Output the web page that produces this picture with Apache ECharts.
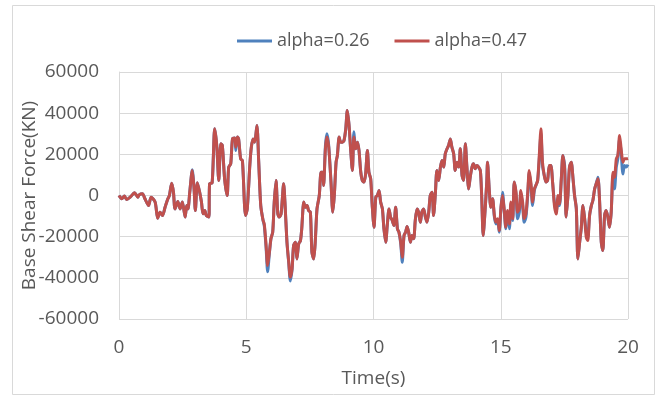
<!DOCTYPE html>
<html>
<head>
<meta charset="utf-8">
<script src="https://cdn.jsdelivr.net/npm/echarts@6/dist/echarts.min.js"></script>
<style>
  html, body { margin: 0; padding: 0; background: #fff; }
  #chart { width: 661px; height: 397px; }
</style>
</head>
<body>
<div id="chart"></div>
<script>
// Time stamps (s)
const time = [
  0.00, 0.11, 0.21, 0.30, 0.44, 0.61, 0.74, 0.79, 0.92, 1.02,
  1.16, 1.26, 1.42, 1.52, 1.61, 1.71, 1.81, 1.92, 1.98, 2.07,
  2.14, 2.20, 2.31, 2.40, 2.49, 2.60, 2.66, 2.71, 2.78, 2.88,
  2.95, 3.00, 3.08, 3.17, 3.24, 3.30, 3.37, 3.43, 3.53, 3.56,
  3.66, 3.76, 3.84, 3.92, 4.00, 4.06, 4.15, 4.25, 4.31, 4.39,
  4.46, 4.55, 4.59, 4.65, 4.70, 4.78, 4.85, 4.97, 5.04, 5.14,
  5.20, 5.27, 5.33, 5.42, 5.49, 5.57, 5.66, 5.71, 5.78, 5.84,
  5.91, 5.97, 6.04, 6.10, 6.17, 6.24, 6.30, 6.37, 6.47, 6.52,
  6.60, 6.67, 6.73, 6.80, 6.86, 6.93, 6.99, 7.06, 7.13, 7.18,
  7.26, 7.32, 7.39, 7.45, 7.52, 7.58, 7.65, 7.71, 7.78, 7.87,
  7.94, 8.00, 8.04, 8.11, 8.17, 8.24, 8.33, 8.40, 8.46, 8.53,
  8.58, 8.65, 8.71, 8.78, 8.84, 8.91, 8.97, 9.04, 9.10, 9.17,
  9.23, 9.30, 9.37, 9.43, 9.50, 9.56, 9.63, 9.69, 9.76, 9.82,
  9.89, 9.95, 10.02, 10.09, 10.15, 10.22, 10.28, 10.35, 10.41, 10.48,
  10.54, 10.61, 10.67, 10.74, 10.80, 10.87, 10.94, 11.00, 11.07, 11.13,
  11.20, 11.26, 11.32, 11.38, 11.45, 11.51, 11.58, 11.64, 11.71, 11.77,
  11.84, 11.90, 11.97, 12.04, 12.10, 12.17, 12.23, 12.30, 12.36, 12.43,
  12.49, 12.56, 12.63, 12.69, 12.76, 12.82, 12.89, 12.95, 13.02, 13.08,
  13.15, 13.21, 13.28, 13.35, 13.41, 13.48, 13.54, 13.61, 13.67, 13.74,
  13.80, 13.87, 13.93, 14.00, 14.06, 14.13, 14.20, 14.25, 14.31, 14.38,
  14.45, 14.48, 14.55, 14.61, 14.68, 14.75, 14.81, 14.88, 14.94, 15.01,
  15.07, 15.14, 15.20, 15.27, 15.34, 15.40, 15.47, 15.53, 15.60, 15.66,
  15.73, 15.79, 15.86, 15.92, 15.99, 16.06, 16.12, 16.19, 16.25, 16.32,
  16.38, 16.45, 16.51, 16.58, 16.64, 16.71, 16.78, 16.84, 16.91, 16.97,
  17.04, 17.11, 17.18, 17.25, 17.31, 17.38, 17.44, 17.51, 17.57, 17.64,
  17.70, 17.77, 17.84, 17.90, 17.97, 18.03, 18.10, 18.16, 18.23, 18.29,
  18.36, 18.42, 18.49, 18.56, 18.62, 18.69, 18.75, 18.82, 18.88, 18.95,
  19.01, 19.08, 19.14, 19.21, 19.27, 19.34, 19.41, 19.47, 19.54, 19.60,
  19.67, 19.73, 19.80, 19.86, 19.93, 20.00
]

// Base shear (kN), alpha = 0.47 (red)
const alpha047 = [
  0, -1600, -300, -1900, -800, 1300, -800, 300, 800, -1600,
  -4900, -800, -3200, -11000, -8100, -9700, -5700, -1600, 0, 6000,
  1600, -6500, -2900, -6500, -3200, -10500, -4900, -6500, 1600, 12200,
  3200, -7300, 6200, 1600, -3200, -8900, -7300, -9700, -10500, 5700,
  6200, 32400, 24300, 7300, 25100, 24300, 8100, 0, 13800, 15400,
  27500, 27900, 23500, 28400, 27500, 17800, 17000, -9700, -6500, 14600,
  23500, 27500, 25900, 34000, 16200, -4900, -12000, -14000, -24300, -34000,
  -27500, -21000, -17800, -3200, 7300, -8900, -10500, -8900, 5700, -3200,
  -22700, -32400, -39700, -35600, -24300, -22700, -30800, -23500, -21900, -16200,
  -3200, -5700, -4900, -7300, -8100, -27500, -30800, -22700, -6500, 0,
  11300, 11300, 4900, 22700, 28400, 23500, 6500, -8100, 0, 16200,
  19400, 28400, 25900, 25900, 26700, 32400, 41300, 34000, 22700, 12200,
  28400, 22700, 25900, 21900, 11300, 7300, 6500, 10500, 21900, 11300,
  8100, -4900, -15400, -800, 0, 2400, -3200, -6500, -16200, -22700,
  -14600, -6500, -10500, -12200, -14600, -5700, -16200, -17800, -22700, -30000,
  -19400, -17800, -15000, -17800, -22700, -19400, -21000, -12200, -6500, -8100,
  -13000, -8100, -6500, -10500, -13000, -8100, 0, 1600, -9700, 800,
  12200, 7300, 13800, 17000, 13800, 20300, 22700, 24300, 27500, 23500,
  20300, 12200, 16200, 13800, 22700, 9700, 7300, 25100, 13800, 3200,
  8900, 13800, 15400, 13000, 14600, 13800, 12000, 0, -19400, -8100,
  6500, 16200, 2400, -5700, -1600, -9700, -13000, -11300, -17000, -5700,
  0, -7300, -15400, -7300, -13800, -3200, -11300, 6500, 1600, -8100,
  -6500, 2400, -3200, -11300, -8900, 1600, 12200, 5700, -3200, 3200,
  4900, 7300, 18600, 32400, 16200, 9700, 6500, 7300, 14600, 14600,
  6000, -5000, -9000, 0, -4100, 8100, 19400, 13000, -10500, 0,
  13800, 16200, 8100, 0, -6500, -30800, -22700, -16200, -4900, -10500,
  -20300, -21900, -9700, -4900, -2400, 3200, 5700, 8100, -1600, -22700,
  -26700, -9700, -7300, -10500, -15400, -8100, 11300, 8900, 17800, 19400,
  29100, 22700, 16200, 17800, 17800, 18000
]

// Base shear (kN), alpha = 0.26 (blue)
const alpha026 = [
  0, -1600, -300, -1900, -800, 1300, -800, 300, 800, -1600,
  -4900, -800, -3200, -11000, -8100, -9700, -5700, -1600, 0, 6000,
  1600, -6500, -2900, -6500, -3200, -10500, -4900, -6500, 1600, 12500,
  3200, -7300, 6200, 1600, -3200, -8900, -7300, -9700, -10500, 5700,
  6200, 32400, 24300, 7300, 25100, 24300, 8100, 0, 13800, 15400,
  27500, 27900, 21900, 28400, 27500, 17800, 17000, -9700, -6500, 14600,
  23500, 27500, 25900, 34000, 16200, -4900, -12000, -14800, -25500, -37000,
  -28000, -21000, -17800, -3200, 7300, -8900, -10500, -8900, 5700, -3200,
  -22700, -33000, -41500, -36000, -24300, -22700, -30800, -23500, -21900, -16200,
  -3200, -5700, -4900, -7300, -8100, -27500, -30800, -22700, -6500, 0,
  11300, 11300, 4900, 24000, 30000, 24300, 6500, -8100, 0, 16200,
  19400, 28400, 25900, 25900, 26700, 32400, 41300, 34000, 22700, 12200,
  31000, 22700, 25900, 21900, 11300, 7300, 6500, 10500, 21900, 11300,
  8100, -4900, -15400, -800, 0, 2400, -3200, -6500, -16200, -22700,
  -14600, -6500, -10500, -12200, -14600, -5700, -16200, -17800, -23500, -32400,
  -19400, -17800, -15000, -17800, -22700, -19400, -21000, -12200, -6500, -8100,
  -13000, -8100, -6500, -10500, -13000, -8100, 0, 1600, -9700, 800,
  12200, 7300, 13800, 17000, 13800, 20300, 22700, 24300, 27500, 23500,
  20300, 12200, 16200, 13800, 22700, 9700, 7300, 25100, 13800, 3200,
  8900, 13800, 15400, 13000, 14600, 13800, 12000, 0, -19400, -8100,
  6500, 16200, 2400, -5700, -1600, -10500, -13800, -12200, -17800, -5700,
  1600, -8100, -16200, -8100, -16200, -4100, -12200, 6500, 800, -11300,
  -8100, 1600, -4900, -13000, -10500, 0, 11300, 4100, -4900, 2400,
  4900, 7300, 17000, 30000, 14600, 9700, 6500, 7300, 14600, 14600,
  6000, -3500, -8000, -3200, -4900, 8100, 19400, 14600, -10500, 0,
  13800, 16200, 8100, 0, -6500, -30800, -22700, -16200, -4900, -10500,
  -17800, -20300, -9700, -4900, -2400, 3200, 5700, 8900, -1600, -22700,
  -26700, -9700, -7300, -10500, -15400, -8100, 9700, 3200, 13800, 17800,
  27500, 21100, 10500, 14600, 13800, 15000
]

const xTicks = { min: 0, max: 20, interval: 5 }
const yTicks = { min: -60000, max: 60000, interval: 20000 }

const chart = echarts.init(document.getElementById('chart'), null, { renderer: 'canvas' })

const textColor = '#595959'
const gridColor = '#d9d9d9'
const font = "'Open Sans', sans-serif"

const option = {
  backgroundColor: '#fff',
  animation: false,
  textStyle: { fontFamily: font },
  graphic: [
    {
      type: 'rect',
      shape: { x: 12.5, y: 5.5, width: 642, height: 389 },
      style: { fill: 'none', stroke: gridColor, lineWidth: 1 },
      silent: true
    }
  ],
  legend: {
    data: ['alpha=0.26', 'alpha=0.47'],
    left: 232,
    top: 25,
    icon: 'rect',
    itemWidth: 35,
    itemHeight: 3,
    itemGap: 25,
    textStyle: { color: textColor, fontSize: 18, fontFamily: font, lineHeight: 22 }
  },
  grid: {
    left: 119,
    right: 33,
    top: 72,
    bottom: 78
  },
  xAxis: {
    type: 'value',
    min: xTicks.min,
    max: xTicks.max,
    interval: xTicks.interval,
    name: 'Time(s)',
    nameLocation: 'middle',
    nameGap: 50,
    nameTextStyle: { color: textColor, fontSize: 19, fontFamily: font },
    axisLine: { show: true, lineStyle: { color: gridColor } },
    axisTick: { show: false },
    axisLabel: { color: textColor, fontSize: 19, margin: 19, fontFamily: font },
    splitLine: { show: true, lineStyle: { color: gridColor } }
  },
  yAxis: {
    type: 'value',
    min: yTicks.min,
    max: yTicks.max,
    interval: yTicks.interval,
    name: 'Base Shear Force(KN)',
    nameLocation: 'middle',
    nameGap: 80,
    nameMoveOverlap: false,
    nameTextStyle: { color: textColor, fontSize: 19, fontFamily: font },
    axisLine: { show: true, lineStyle: { color: gridColor } },
    axisTick: { show: false },
    axisLabel: {
      color: textColor,
      fontSize: 19,
      margin: 20,
      fontFamily: font,
      formatter: (v) => String(v)
    },
    splitLine: { show: true, lineStyle: { color: gridColor } }
  },
  series: [
    {
      name: 'alpha=0.26',
      type: 'line',
      data: time.map((t, i) => [t, alpha026[i]]),
      showSymbol: false,
      smooth: 0.25,
      itemStyle: { color: '#4F81BD' },
      lineStyle: { color: '#4F81BD', width: 3 },
      z: 2
    },
    {
      name: 'alpha=0.47',
      type: 'line',
      data: time.map((t, i) => [t, alpha047[i]]),
      showSymbol: false,
      smooth: 0.25,
      itemStyle: { color: '#C0504D' },
      lineStyle: { color: '#C0504D', width: 3 },
      z: 3
    }
  ]
}

chart.setOption(option)
</script>
</body>
</html>
